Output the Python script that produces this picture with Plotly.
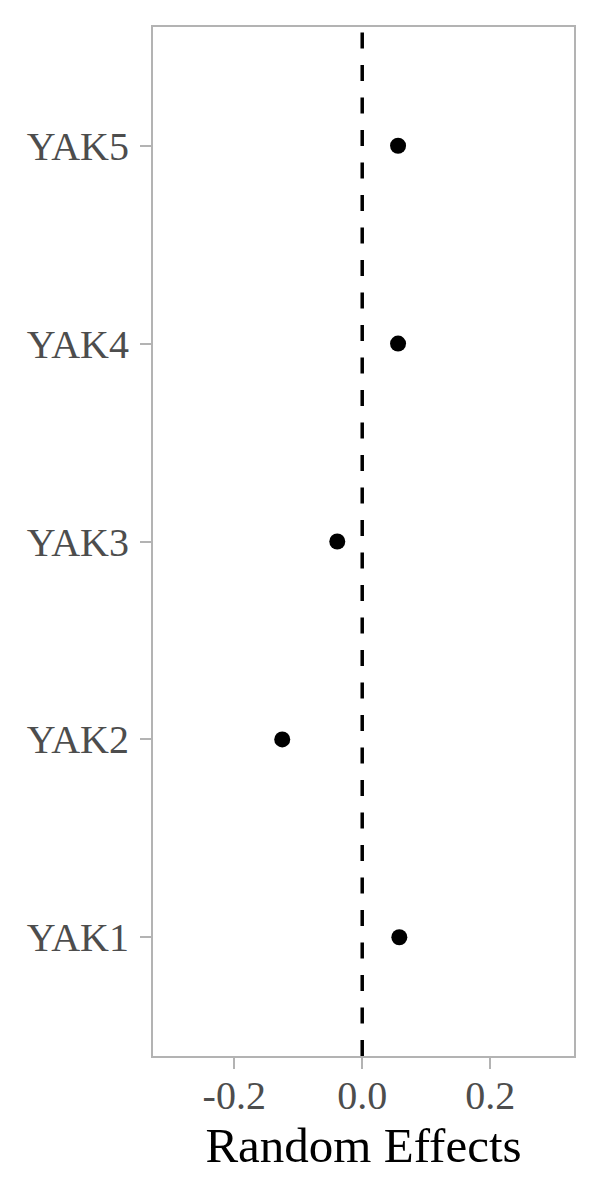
import plotly.graph_objects as go

categories = ["YAK1", "YAK2", "YAK3", "YAK4", "YAK5"]
effects = [0.058, -0.125, -0.039, 0.056, 0.056]
x_ticks = [-0.2, 0.0, 0.2]
x_tick_labels = ["-0.2", "0.0", "0.2"]

fig = go.Figure()
fig.add_trace(go.Scatter(
    x=effects, y=categories, mode="markers",
    marker=dict(color="black", size=16),
    showlegend=False, hoverinfo="skip",
))

fig.add_shape(type="line", xref="x", yref="paper", x0=0, x1=0, y0=0, y1=1,
              line=dict(color="black", width=3.5, dash="16px,16.5px"))

font = "Liberation Serif, Times New Roman, serif"
fig.update_layout(
    width=600, height=1200,
    margin=dict(l=153, r=26, t=27, b=144),
    paper_bgcolor="white", plot_bgcolor="white",
    font=dict(family=font),
    xaxis=dict(
        range=[-0.327, 0.331], tickvals=x_ticks, ticktext=x_tick_labels,
        showgrid=False, zeroline=False,
        showline=True, mirror=True, linecolor="#B3B3B3", linewidth=2,
        ticks="outside", ticklen=11, tickwidth=2, tickcolor="#B3B3B3",
        tickfont=dict(size=40, color="#4D4D4D", family=font),
        ticklabelstandoff=-8,
        title=dict(text="Random Effects", font=dict(size=49, color="black", family=font), standoff=6),
    ),
    yaxis=dict(
        type="category", categoryorder="array", categoryarray=categories,
        range=[-0.6, 4.6],
        showgrid=False, zeroline=False,
        showline=True, mirror=True, linecolor="#B3B3B3", linewidth=2,
        ticks="outside", ticklen=11, tickwidth=2, tickcolor="#B3B3B3",
        tickfont=dict(size=40, color="#4D4D4D", family=font),
        ticklabelstandoff=3,
    ),
)

fig.write_html("out.html")
